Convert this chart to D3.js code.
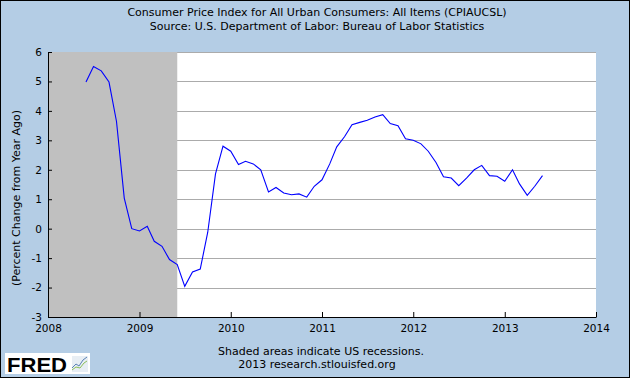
<!DOCTYPE html>
<html><head><meta charset="utf-8">
<script src="https://cdn.jsdelivr.net/npm/d3@7"></script>
<style>
html,body{margin:0;padding:0;background:#fff;}
svg text{font-family:"DejaVu Sans",Verdana,sans-serif;fill:#000;}
</style></head>
<body>
<script>
// ---- data (monthly, percent change from year ago) ----
const startMonth = "2008-06";
const cpiValues = [
  4.98, 5.51, 5.36, 4.98, 3.64, 1.04, 0.00,            // Jun-Dec 2008
  -0.08, 0.08, -0.43, -0.60, -1.05, -1.22, -1.96, -1.47, -1.37, -0.12, 1.86, 2.80, // 2009
  2.63, 2.18, 2.29, 2.20, 2.00, 1.25, 1.40, 1.21, 1.15, 1.18, 1.07, 1.44,          // 2010
  1.66, 2.20, 2.78, 3.12, 3.53, 3.61, 3.68, 3.79, 3.87, 3.57, 3.50, 3.05,          // 2011
  3.00, 2.88, 2.63, 2.25, 1.76, 1.72, 1.46, 1.72, 2.00, 2.15, 1.80, 1.78,          // 2012
  1.61, 2.00, 1.52, 1.13, 1.44, 1.80                                              // Jan-Jun 2013
];
const recessions = [["2007-12-01", "2009-06-01"]];
const yTicks = [-3, -2, -1, 0, 1, 2, 3, 4, 5, 6];
const xTickYears = [2008, 2009, 2010, 2011, 2012, 2013, 2014];
const titleLines = ["Consumer Price Index for All Urban Consumers: All Items (CPIAUCSL)",
                    "Source: U.S. Department of Labor: Bureau of Labor Statistics"];
const yLabel = "(Percent Change from Year Ago)";
const footLines = ["Shaded areas indicate US recessions.", "2013 research.stlouisfed.org"];

// ---- build ----
const W = 630, H = 378;
const plot = {l: 48, r: 596, t: 52, b: 317};
const parse = d3.timeParse("%Y-%m-%d");
const d0 = parse(startMonth + "-01");
const data = cpiValues.map((v, i) => ({date: d3.timeMonth.offset(d0, i), value: v}));

const x = d3.scaleTime().domain([new Date(2008,0,1), new Date(2014,0,1)]).range([plot.l, plot.r]);
const y = d3.scaleLinear().domain([-3, 6]).range([plot.b, plot.t]);

const svg = d3.select("body").append("svg").attr("width", W).attr("height", H);
svg.append("rect").attr("x", 0.5).attr("y", 0.5).attr("width", W-1).attr("height", H-1)
  .attr("fill", "#b4cde5").attr("stroke", "#000").attr("stroke-width", 1);

// plot background
svg.append("rect").attr("x", plot.l).attr("y", plot.t).attr("width", plot.r-plot.l).attr("height", plot.b-plot.t)
  .attr("fill", "#fff");

// gridlines
svg.append("g").selectAll("line").data(yTicks).join("line")
  .attr("x1", plot.l).attr("x2", plot.r)
  .attr("y1", d => Math.round(y(d)) + 0.5).attr("y2", d => Math.round(y(d)) + 0.5)
  .attr("stroke", "#ababab").attr("stroke-width", 1);

// recession shading
svg.append("g").selectAll("rect").data(recessions).join("rect")
  .attr("x", d => Math.max(plot.l, x(parse(d[0]))))
  .attr("width", d => x(parse(d[1])) - Math.max(plot.l, x(parse(d[0]))))
  .attr("y", plot.t).attr("height", plot.b - plot.t)
  .attr("fill", "#c0c0c0");

// line
svg.append("path").datum(data)
  .attr("fill", "none").attr("stroke", "#0000ff").attr("stroke-width", 1.1)
  .attr("d", d3.line().x(d => x(d.date)).y(d => y(d.value)));

// axes
const fs = "10.5px", fsT = "11px";
const xAxis = d3.axisBottom(x)
  .tickValues(xTickYears.map(yr => new Date(yr, 0, 1)))
  .tickFormat(d3.timeFormat("%Y"))
  .tickSizeInner(-5).tickSizeOuter(0).tickPadding(8);
const gx = svg.append("g").attr("transform", `translate(0,${plot.b})`).call(xAxis);
gx.selectAll("text").style("font-size", fs);

const yAxis = d3.axisLeft(y).tickValues(yTicks).tickFormat(d => String(d))
  .tickSizeInner(-4).tickSizeOuter(0).tickPadding(6);
const gy = svg.append("g").attr("transform", `translate(${plot.l},0)`).call(yAxis);
gy.selectAll("text").style("font-size", fs);
[gx, gy].forEach(g => {
  g.select(".domain").attr("stroke", "#000");
  g.selectAll(".tick line").attr("stroke", "#000");
  g.attr("font-family", null);
});

// titles
svg.append("g").selectAll("text").data(titleLines).join("text")
  .attr("x", 317).attr("y", (d, i) => 16 + i * 14)
  .attr("text-anchor", "middle").style("font-size", fsT).text(d => d);

// y label
svg.append("text").attr("transform", "translate(20,198) rotate(-90)")
  .attr("text-anchor", "middle").style("font-size", fsT).text(yLabel);

// footer
svg.append("g").selectAll("text").data(footLines).join("text")
  .attr("x", (d, i) => i === 0 ? 321 : 317).attr("y", (d, i) => 355 + i * 13)
  .attr("text-anchor", "middle").style("font-size", fsT).text(d => d);

// FRED logo
const logo = svg.append("g");
logo.append("rect").attr("x", 5).attr("y", 353).attr("width", 85).attr("height", 21).attr("fill", "#fff");
logo.append("text").attr("x", 7).attr("y", 372).style("font-size", "20px").style("font-weight", "bold")
  .style("font-family", "'Liberation Sans', Arial, sans-serif").attr("fill", "#1a1a1a")
  .attr("textLength", 60).attr("lengthAdjust", "spacingAndGlyphs").text("FRED");
logo.append("rect").attr("x", 72).attr("y", 356).attr("width", 16).attr("height", 16).attr("fill", "#e8eef4");
const iconPts1 = [[0, 12], [4, 8], [7, 10], [11, 4], [15, 1]];
const iconPts2 = [[0, 14], [4, 11], [8, 12], [12, 7], [15, 5]];
logo.append("path").attr("d", d3.line()(iconPts1.map(p => [72 + p[0], 356 + p[1]])))
  .attr("fill", "none").attr("stroke", "#5a82b4").attr("stroke-width", 1);
logo.append("path").attr("d", d3.line()(iconPts2.map(p => [72 + p[0], 356 + p[1]])))
  .attr("fill", "none").attr("stroke", "#8cbf5a").attr("stroke-width", 1);
</script>
</body></html>
